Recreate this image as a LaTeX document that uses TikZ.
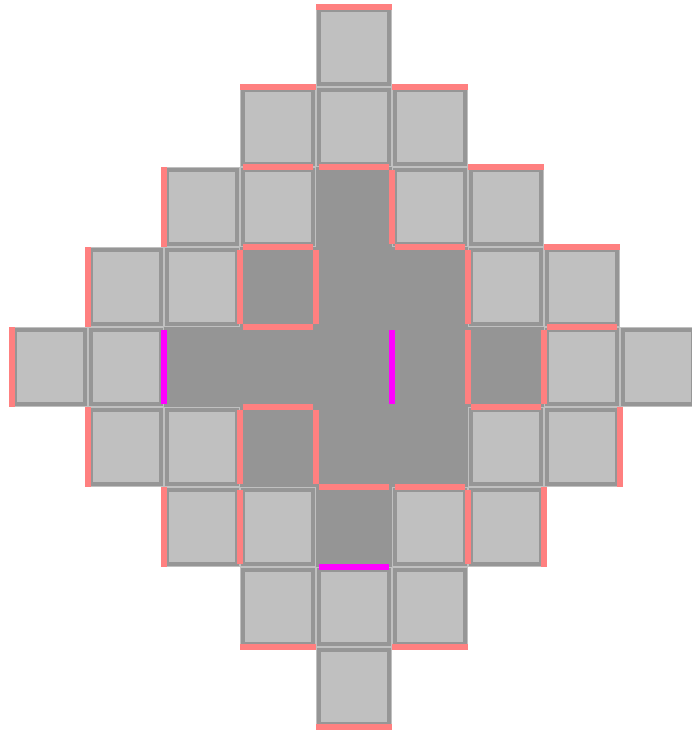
\documentclass[tikz,border=0pt]{standalone}
\usepackage{tikz}

\definecolor{cellgray}{HTML}{C0C0C0}
\definecolor{linegray}{HTML}{969696}
\definecolor{coregray}{HTML}{959595}
\definecolor{wallred}{HTML}{FF8080}
\definecolor{gatemag}{HTML}{FF00FF}

\begin{document}
\begin{tikzpicture}[
    x=1.9cm, y=2cm,
    cell/.style={
        draw=cellgray, double=linegray, double distance=0.1cm,
        line width=0.025cm, fill=cellgray,
        minimum width=1.75cm, minimum height=1.85cm,
        inner sep=0pt, outer sep=0.075cm,
    },
    core/.style={cell, draw=coregray, double=coregray, fill=coregray},
    rim/.style={draw=wallred, line width=0.15cm},
    wall/.style={rim, shorten <=0.075cm, shorten >=0.075cm},
    gate/.style={wall, draw=gatemag},
]
\useasboundingbox (-0.164,0.0875) rectangle (8.941,-9.0625);

% ── Light cells of the diamond ───────────────────────────────────────
\foreach \r/\cs in {0/{4}, 1/{3,4,5}, 2/{2,3,5,6}, 3/{1,2,6,7}, 4/{0,1,7,8},
                    5/{1,2,6,7}, 6/{2,3,5,6}, 7/{3,4,5}, 8/{4}}
    \foreach \c in \cs
        \node[cell] (c\r\c) at (\c+0.5, -\r-0.5) {};

% ── Dark core ────────────────────────────────────────────────────────
\foreach \r/\cs in {2/{4}, 3/{3,4,5}, 4/{2,3,4,5,6}, 5/{3,4,5}, 6/{4}}
    \foreach \c in \cs
        \node[core] (c\r\c) at (\c+0.5, -\r-0.5) {};

% ── Red edges on the outline ─────────────────────────────────────────
\foreach \n/\a/\b in {
    c04/north west/north east, c13/north west/north east,
    c15/north west/north east, c26/north west/north east,
    c37/north west/north east,
    c22/north west/south west, c31/north west/south west,
    c40/north west/south west, c51/north west/south west,
    c62/north west/south west,
    c57/north east/south east, c66/north east/south east,
    c73/south west/south east, c75/south west/south east,
    c84/south west/south east}
    \draw[rim] (\n.\a) -- (\n.\b);

% ── Red edges inside ─────────────────────────────────────────────────
\foreach \n/\a/\b in {
    c23/north west/north east, c24/north west/north east,
    c24/north east/south east,
    c33/north west/north east, c35/north west/north east,
    c33/north west/south west, c33/north east/south east,
    c35/north east/south east, c33/south west/south east,
    c37/south west/south east,
    c45/north east/south east, c46/north east/south east,
    c46/south west/south east,
    c53/north west/north east, c53/north west/south west,
    c53/north east/south east,
    c54/south west/south east, c55/south west/south east,
    c62/north east/south east, c65/north east/south east}
    \draw[wall] (\n.\a) -- (\n.\b);

% ── Magenta edges ────────────────────────────────────────────────────
\draw[gate] (c42.north west) -- (c42.south west);
\draw[gate] (c44.north east) -- (c44.south east);
\draw[gate] (c64.south west) -- (c64.south east);

\end{tikzpicture}
\end{document}
